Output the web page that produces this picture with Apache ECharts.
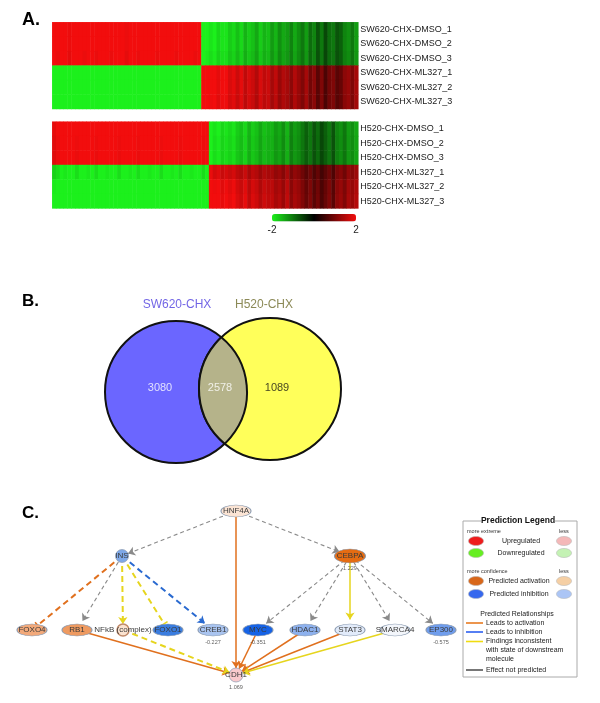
<!DOCTYPE html>
<html>
<head>
<meta charset="utf-8">
<script src="https://cdn.jsdelivr.net/npm/echarts@6/dist/echarts.min.js"></script>
<style>
html, body { margin: 0; padding: 0; background: #fff; }
#main { width: 600px; height: 703px; }
</style>
</head>
<body>
<div id="main"></div>
<script>
// ---- A. heatmaps ----
const swRows = ['SW620-CHX-DMSO_1', 'SW620-CHX-DMSO_2', 'SW620-CHX-DMSO_3',
  'SW620-CHX-ML327_1', 'SW620-CHX-ML327_2', 'SW620-CHX-ML327_3'];
const h520Rows = ['H520-CHX-DMSO_1', 'H520-CHX-DMSO_2', 'H520-CHX-DMSO_3',
  'H520-CHX-ML327_1', 'H520-CHX-ML327_2', 'H520-CHX-ML327_3'];
// sign of the change in the left gene block (right block is opposite)
const rowSign = [1, 1, 1, -1, -1, -1];
const swRowScale = [1.0, 1.0, 0.97, 1.05, 1.05, 1.03];
const h520RowScale = [1.0, 0.98, 0.97, 0.92, 1.03, 1.06];
// log2 fold-change magnitude per gene column
const swLeft = [2.2, 2.0, 2.2, 2.3, 1.95, 2.2, 2.1, 2.3, 2.0, 2.2, 2.3, 2.0, 2.2, 2.1, 2.3, 2.0, 2.2, 2.3, 2.1, 1.95,
  2.2, 2.3, 2.0, 2.2, 2.1, 2.3, 2.2, 2.0, 2.3, 2.1, 2.2, 2.3, 2.0, 2.2, 2.1, 2.3, 2.2, 2.0, 2.2];
const swRight = [2.1, 2.0, 1.9, 2.0, 1.8, 1.9, 1.9, 1.7, 1.8, 1.6, 1.8, 1.5, 1.7, 1.6, 1.4, 1.7, 1.5, 1.6,
  1.3, 1.5, 1.2, 1.4, 1.3, 1.1, 1.4, 1.2, 1.0, 1.3, 0.9, 1.1, 0.7, 1.0, 0.6, 0.9, 1.0, 0.7, 0.8, 1.1, 1.2, 1.0, 1.3];
const h520Left = [1.9, 2.0, 2.2, 2.1, 2.3, 2.2, 2.0, 2.3, 2.2, 2.1, 2.3, 2.0, 2.2, 2.3, 2.1, 2.2, 2.3, 2.0, 2.2, 2.3,
  2.1, 2.2, 2.0, 2.3, 2.2, 2.1, 2.3, 2.2, 2.0, 2.2, 2.3, 2.1, 2.2, 2.0, 2.3, 2.2, 2.1, 2.3, 2.2, 2.0, 2.2];
const h520Right = [2.1, 1.9, 2.0, 1.8, 1.9, 1.8, 1.9, 1.7, 1.6, 1.8, 1.5, 1.7, 1.6, 1.4, 1.6, 1.5, 1.5,
  1.3, 1.4, 1.2, 1.5, 1.1, 1.3, 1.2, 1.0, 0.8, 1.0, 0.7, 0.9, 0.6, 0.8, 1.0, 0.7, 1.1, 1.2, 1.0, 1.3, 1.2, 1.4];
const scaleTicks = ['-2', '2'];

// ---- B. venn ----
const vennSets = ['SW620-CHX', 'H520-CHX'];
const vennCounts = [3080, 2578, 1089];

// ---- C. network ----
const netNodes = ['HNF4A', 'INS', 'CEBPA', 'FOXO4', 'RB1', 'NFkB (complex)', 'FOXO1', 'CREB1',
  'MYC', 'HDAC1', 'STAT3', 'SMARCA4', 'EP300', 'CDH1'];
const netFill = ['#fbe4d4', '#7ea8e8', '#e56c12', '#f2a97a', '#ee9a60', '#fbe3d0', '#3a7de0', '#a9c4f0',
  '#1663e6', '#8db1ee', '#e2ebfa', '#f3f6fb', '#6f9ded', '#f9c9cc'];
const netValues = { 'CEBPA': '1.229', 'CREB1': '-0.227', 'MYC': '-0.351', 'EP300': '-0.575', 'CDH1': '1.069' };
// source, target, relationship, dashed, end
const netEdges = [
  ['HNF4A', 'INS', 'none', true, 'arrow'],
  ['HNF4A', 'CEBPA', 'none', true, 'arrow'],
  ['HNF4A', 'CDH1', 'activation', false, 'arrow'],
  ['INS', 'FOXO4', 'activation', true, 'bar'],
  ['INS', 'RB1', 'none', true, 'arrow'],
  ['INS', 'NFkB (complex)', 'inconsistent', true, 'arrow'],
  ['INS', 'FOXO1', 'inconsistent', true, 'bar'],
  ['INS', 'CREB1', 'inhibition', true, 'arrow'],
  ['CEBPA', 'MYC', 'none', true, 'arrow'],
  ['CEBPA', 'HDAC1', 'none', true, 'arrow'],
  ['CEBPA', 'STAT3', 'inconsistent', false, 'arrow'],
  ['CEBPA', 'SMARCA4', 'none', true, 'arrow'],
  ['CEBPA', 'EP300', 'none', true, 'arrow'],
  ['RB1', 'CDH1', 'activation', false, 'arrow'],
  ['NFkB (complex)', 'CDH1', 'inconsistent', true, 'arrow'],
  ['MYC', 'CDH1', 'activation', false, 'arrow'],
  ['HDAC1', 'CDH1', 'activation', false, 'arrow'],
  ['STAT3', 'CDH1', 'activation', false, 'arrow'],
  ['SMARCA4', 'CDH1', 'inconsistent', false, 'arrow']
];

// layout (page units of the overlay grid)
const vennLayout = [[176, 392, 71], [270, 389, 71]];
const vennLabelPos = [[177, 305], [264, 305]];
const vennCountPos = [[160, 388], [220, 388], [277, 388]];
const netLayout = [[236, 511], [122, 556], [350, 556], [32, 630], [77, 630], [123, 630], [168, 630], [213, 630],
  [258, 630], [305, 630], [350, 630], [395, 630], [441, 630], [236, 675]];
const netSize = [[30, 12], [13, 13], [31, 14], [30, 12], [30, 12], [12, 12], [30, 12], [30, 12],
  [30, 12], [30, 12], [30, 12], [30, 12], [30, 12], [14, 14]];

const relColor = { activation: '#e0701e', inhibition: '#2a6ad0', inconsistent: '#e6d51e', none: '#8a8a8a' };
const ELLIPSE = 'path://M0,50a50,50 0 1,0 100,0a50,50 0 1,0 -100,0Z';
const BAR = 'path://M0,0M10,10M0,0L10,0L10,2L0,2Z';

function buildCells(left, right, scales) {
  const cells = [];
  rowSign.forEach(function (s, r) {
    left.forEach(function (m, c) { cells.push([c, r, s * m * scales[r]]); });
    right.forEach(function (m, c) { cells.push([left.length + c, r, -s * m * scales[r]]); });
  });
  return cells;
}
const swCols = swLeft.concat(swRight).map(function (_, i) { return 'g' + i; });
const h520Cols = h520Left.concat(h520Right).map(function (_, i) { return 'g' + i; });

function hmYAxis(rows, idx) {
  return {
    type: 'category', data: rows, gridIndex: idx, inverse: true, position: 'right',
    axisLine: { show: false }, axisTick: { show: false },
    axisLabel: { margin: 2, fontSize: 9, color: '#222', fontFamily: 'Arial', padding: [3, 0, 0, 0] }
  };
}

function txt(t, x, y, font, fill, align) {
  return {
    type: 'text', silent: true,
    style: { text: t, x: x, y: y, font: font, fill: fill || '#222',
      align: align || 'left', textAlign: align || 'left', verticalAlign: 'middle', textVerticalAlign: 'middle' }
  };
}
function ell(cx, cy, fill) {
  return { type: 'ellipse', shape: { cx: cx, cy: cy, rx: 7.5, ry: 4.5 }, style: { fill: fill, stroke: '#bbbbbb', lineWidth: 0.6 } };
}
function seg(y, color) {
  return { type: 'line', shape: { x1: 466, y1: y, x2: 483, y2: y }, style: { stroke: color, lineWidth: 1.6 } };
}

const lf = '7px Arial';
const legendEls = [
  { type: 'rect', shape: { x: 463, y: 521, width: 114, height: 156 }, style: { fill: '#fff', stroke: '#aaaaaa', lineWidth: 1 } },
  { type: 'rect', shape: { x: 481, y: 516, width: 74, height: 10 }, style: { fill: '#fff' } },
  txt('Prediction Legend', 518, 521, 'bold 8.5px Arial', '#111', 'center'),
  txt('more extreme', 467, 531, '5.5px Arial', '#333'),
  txt('less', 559, 531, '5.5px Arial', '#333'),
  ell(476, 541, '#ee1c1c'), txt('Upregulated', 521, 541, lf, '#222', 'center'), ell(564, 541, '#f4b8b8'),
  ell(476, 553, '#66ee22'), txt('Downregulated', 521, 553, lf, '#222', 'center'), ell(564, 553, '#c4f2b4'),
  txt('more confidence', 467, 571, '5.5px Arial', '#333'),
  txt('less', 559, 571, '5.5px Arial', '#333'),
  ell(476, 581, '#d8671a'), txt('Predicted activation', 519, 581, lf, '#222', 'center'), ell(564, 581, '#f5cfa4'),
  ell(476, 594, '#3668ee'), txt('Predicted inhibition', 519, 594, lf, '#222', 'center'), ell(564, 594, '#abc5f5'),
  txt('Predicted Relationships', 517, 614, lf, '#222', 'center'),
  seg(623, '#e87a20'), txt('Leads to activation', 486, 623, lf),
  seg(632, '#2b5ff0'), txt('Leads to inhibition', 486, 632, lf),
  seg(641.5, '#f0dc10'), txt('Findings inconsistent', 486, 641.5, lf),
  txt('with state of downstream', 486, 650.5, lf),
  txt('molecule', 486, 659.5, lf),
  seg(670, '#555555'), txt('Effect not predicted', 486, 670, lf)
];

const netData = netNodes.map(function (n, i) {
  return {
    name: n, value: netLayout[i], symbol: ELLIPSE, symbolSize: netSize[i],
    itemStyle: { color: netFill[i], borderColor: n === 'NFkB (complex)' ? '#c08a6a' : '#8a9ab0', borderWidth: n === 'NFkB (complex)' ? 1.5 : 0.7 }
  };
});
const netLinks = netEdges.map(function (e) {
  const dashed = e[3];
  return {
    source: e[0], target: e[1],
    symbol: ['none', e[4] === 'bar' ? BAR : 'arrow'],
    symbolSize: e[4] === 'bar' ? [1, 8] : [1, 7],
    lineStyle: {
      color: relColor[e[2]],
      width: e[2] === 'none' ? 1.1 : (dashed ? 2 : 1.5),
      type: dashed ? (e[2] === 'none' ? [4, 3] : [6, 4]) : 'solid',
      opacity: 1, curveness: 0
    }
  };
});
const netValueData = netNodes.filter(function (n) { return netValues[n]; }).map(function (n) {
  const p = netLayout[netNodes.indexOf(n)];
  return [p[0], p[1], netValues[n]];
});

const chart = echarts.init(document.getElementById('main'));
chart.setOption({
  animation: false,
  grid: [
    { left: 52.3, top: 22.3, width: 306, height: 86.7 },
    { left: 52.3, top: 121.7, width: 306, height: 86.7 },
    { left: 0, top: 0, width: 600, height: 703 }
  ],
  xAxis: [
    { type: 'category', data: swCols, gridIndex: 0, show: false },
    { type: 'category', data: h520Cols, gridIndex: 1, show: false },
    { type: 'value', gridIndex: 2, min: 0, max: 600, show: false }
  ],
  yAxis: [
    hmYAxis(swRows, 0),
    hmYAxis(h520Rows, 1),
    { type: 'value', gridIndex: 2, min: 0, max: 703, inverse: true, show: false }
  ],
  visualMap: {
    type: 'continuous', min: -2, max: 2, seriesIndex: [0, 1],
    orient: 'horizontal', left: 272, top: 214, itemWidth: 7.5, itemHeight: 84,
    calculable: false, padding: 0, text: null, hoverLink: false,
    inRange: { color: ['#1cf01c', '#000000', '#f20d0d'] }
  },
  graphic: [
    txt('A.', 22, 20, 'bold 18px Arial', '#000'),
    txt('B.', 22, 301, 'bold 17px Arial', '#000'),
    txt('C.', 22, 513, 'bold 17px Arial', '#000'),
    txt(scaleTicks[0], 272, 230, '10px Arial', '#222', 'center'),
    txt(scaleTicks[1], 356, 230, '10px Arial', '#222', 'center')
  ].concat(legendEls),
  series: [
    { type: 'heatmap', xAxisIndex: 0, yAxisIndex: 0, data: buildCells(swLeft, swRight, swRowScale),
      itemStyle: { borderWidth: 0 }, emphasis: { disabled: true }, progressive: 0 },
    { type: 'heatmap', xAxisIndex: 1, yAxisIndex: 1, data: buildCells(h520Left, h520Right, h520RowScale),
      itemStyle: { borderWidth: 0 }, emphasis: { disabled: true }, progressive: 0 },
    {
      type: 'custom', xAxisIndex: 2, yAxisIndex: 2, silent: true,
      data: [vennLayout[0], vennLayout[1], [0, 0, 0]],
      renderItem: function (params, api) {
        const i = params.dataIndex;
        if (i < 2) {
          const c = api.coord([api.value(0), api.value(1)]);
          const r = api.size([api.value(2), 0])[0];
          return { type: 'circle', shape: { cx: c[0], cy: c[1], r: r },
            style: { fill: i === 0 ? '#6b66ff' : '#ffff5a', stroke: '#111', lineWidth: 2 } };
        }
        const a = api.coord(vennLayout[0].slice(0, 2));
        const b = api.coord(vennLayout[1].slice(0, 2));
        const r = api.size([vennLayout[0][2], 0])[0];
        const dx = b[0] - a[0], dy = b[1] - a[1], d = Math.sqrt(dx * dx + dy * dy);
        const h = Math.sqrt(r * r - d * d / 4);
        const mx = (a[0] + b[0]) / 2, my = (a[1] + b[1]) / 2;
        const ux = -dy / d, uy = dx / d;
        const t = [mx - ux * h, my - uy * h], btm = [mx + ux * h, my + uy * h];
        const p = 'M' + t[0] + ',' + t[1] + 'A' + r + ',' + r + ' 0 0 1 ' + btm[0] + ',' + btm[1] +
          'A' + r + ',' + r + ' 0 0 1 ' + t[0] + ',' + t[1] + 'Z';
        return { type: 'path', shape: { pathData: p }, style: { fill: '#b5b38a', stroke: '#111', lineWidth: 2 } };
      }
    },
    {
      type: 'scatter', xAxisIndex: 2, yAxisIndex: 2, symbolSize: 0, silent: true,
      data: [
        { value: vennLabelPos[0].concat([vennSets[0]]), label: { color: '#4d3ddf' } },
        { value: vennLabelPos[1].concat([vennSets[1]]), label: { color: '#6e6b2c' } },
        { value: vennCountPos[0].concat([vennCounts[0]]), label: { color: '#ffffff', fontSize: 11 } },
        { value: vennCountPos[1].concat([vennCounts[1]]), label: { color: '#ffffff', fontSize: 11 } },
        { value: vennCountPos[2].concat([vennCounts[2]]), label: { color: '#111111', fontSize: 11 } }
      ],
      label: { show: true, position: 'inside', fontSize: 12, fontFamily: 'Arial',
        formatter: function (p) { return p.value[2]; } }
    },
    {
      type: 'graph', coordinateSystem: 'cartesian2d', xAxisIndex: 2, yAxisIndex: 2,
      layout: 'none', roam: false, silent: true,
      data: netData, links: netLinks,
      edgeSymbol: ['none', 'arrow'], edgeSymbolSize: 7,
      label: { show: true, position: 'inside', fontSize: 8, color: '#3a3a3a', fontFamily: 'Arial' },
      emphasis: { disabled: true }
    },
    {
      type: 'scatter', xAxisIndex: 2, yAxisIndex: 2, symbolSize: 0, silent: true, z: 5,
      data: netValueData,
      label: { show: true, position: 'bottom', distance: 9, fontSize: 5.5, color: '#333', fontFamily: 'Arial',
        formatter: function (p) { return p.value[2]; } }
    }
  ]
});
</script>
</body>
</html>
